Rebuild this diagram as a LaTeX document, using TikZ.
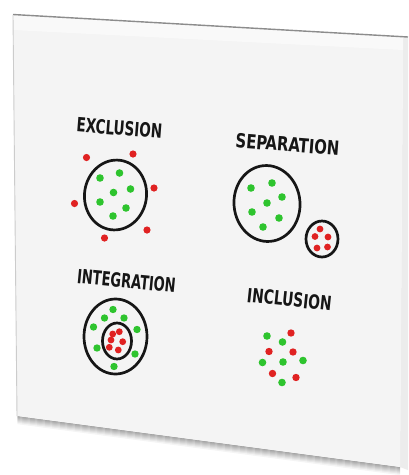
\documentclass[tikz,border=0pt]{standalone}
\usepackage{fontspec}
\usepackage{graphicx}
\newfontfamily\hand{DejaVu Sans Condensed}
\definecolor{board}{RGB}{244,244,244}
\definecolor{boardside}{RGB}{236,236,236}
\definecolor{gdot}{RGB}{46,196,46}
\definecolor{rdot}{RGB}{224,34,34}
\definecolor{ink}{RGB}{22,22,22}
\begin{document}
\begin{tikzpicture}[x=1pt,y=-1pt,
  ring/.style={draw=ink,line width=2.7pt},
  gd/.style={fill=gdot},
  rd/.style={fill=rdot},
  lab/.style={inner sep=0pt,font=\hand\bfseries,text=ink}]
\useasboundingbox (0,0) rectangle (408,475);
\fill[white] (0,0) rectangle (408,475);
% board
\fill[boardside] (403,37) -- (408,37.3) -- (408,470) -- (400,467) -- cycle;
\foreach \i in {0,...,7}{
  \pgfmathsetmacro\g{36-4.5*\i}
  \draw[black!\g, line width=1.2pt] (17.5,416.5+\i) -- (400,467.5+\i);
}
\fill[board] (13,15) -- (403,37) -- (400,467) -- (17,416) -- cycle;
\fill[white, opacity=0.5] (13,15) -- (403,37) -- (403,50) -- (13,30) -- cycle;
\draw[black!45, line width=1.4pt] (13,14.5) -- (408,37);
\draw[black!20, line width=0.9pt] (13,15) -- (17,416);

% labels
\node[lab, rotate=-4.5] (t1) at (119.5,128) {\resizebox{86pt}{14.5pt}{EXCLUSION}};
\node[lab, rotate=-4.5] (t2) at (287.5,144.5) {\resizebox{104pt}{14.5pt}{SEPARATION}};
\node[lab, rotate=-5.5] (t3) at (126.5,281) {\resizebox{99pt}{14.5pt}{INTEGRATION}};
\node[lab, rotate=-6] (t4) at (289.5,299.5) {\resizebox{85pt}{14.5pt}{INCLUSION}};

% exclusion
\draw[ring, rotate around={-8:(115.5,195)}] (115.5,195) ellipse [x radius=31, y radius=35];
\foreach \p in {(100,178),(119.5,173),(130.5,189),(113.5,192.5),(100,202),(126,208),(113,216)}
  \fill[gd] \p circle (3.8);
\foreach \p in {(86.5,157.5),(133,154),(154,188),(74.5,203.5),(147,230),(104.5,238)}
  \fill[rd] \p circle (3.6);

% separation
\draw[ring, rotate around={5:(267,203.5)}] (267,203.5) ellipse [x radius=33, y radius=38];
\draw[ring] (322,239) ellipse [x radius=16, y radius=18];
\foreach \p in {(251,188),(272,183),(282,197),(267,203),(252,212),(279,218),(263,227)}
  \fill[gd] \p circle (3.8);
\foreach \p in {(320,229),(315,236.5),(328,237),(317,248),(327.5,247)}
  \fill[rd] \p circle (3.4);

% integration
\draw[ring] (115.5,336.5) ellipse [x radius=31.5, y radius=37.5];
\draw[ring] (117,341) ellipse [x radius=14.5, y radius=18];
\foreach \p in {(113,309.5),(104.5,318),(124,318),(93.5,327),(137,329.5),(97,348),(135,354),(114,366.5)}
  \fill[gd] \p circle (3.7);
\foreach \p in {(112.7,334),(119.3,331.7),(111,340),(122.7,341.7),(109.3,347.3),(118.3,350)}
  \fill[rd] \p circle (3.4);

% inclusion
\foreach \p in {(267,336),(282.5,342),(262.5,362.5),(283,362),(303,360.5),(282,382.5)}
  \fill[gd] \p circle (3.8);
\foreach \p in {(291,333),(269,351.5),(293,352),(272.5,373.5),(296,377.5)}
  \fill[rd] \p circle (3.7);
\end{tikzpicture}
\end{document}
